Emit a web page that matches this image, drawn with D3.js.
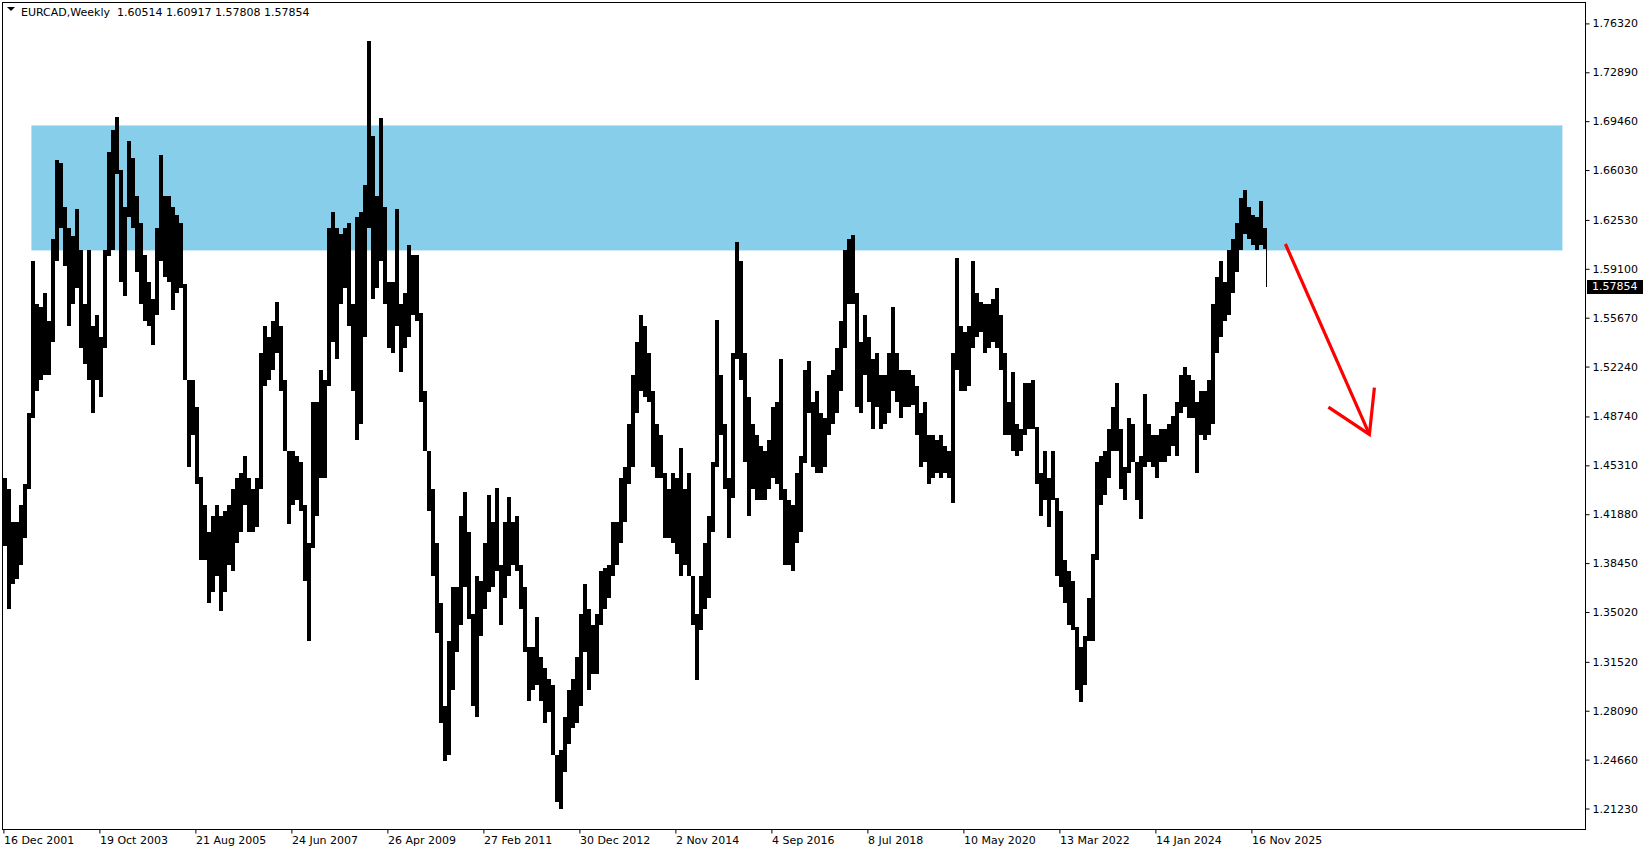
<!DOCTYPE html>
<html>
<head>
<meta charset="utf-8">
<script src="https://cdn.jsdelivr.net/npm/d3@7/dist/d3.min.js"></script>
<style>
  body { margin:0; background:#fff; }
  svg { display:block; }
</style>
</head>
<body>
<div id="chart"></div>
<script>
// EURCAD weekly, each entry = 4 weeks starting 16 Dec 2001
const weeksPerBar = 4
const highs = [
  1.4441,1.4365,1.4136,1.4136,1.4250,1.4403,1.4898,1.5966,1.5661,1.5642,
  1.5737,1.5546,1.6118,1.6671,1.6652,1.6347,1.6195,1.6137,1.6328,1.6042,
  1.5661,1.6042,1.5508,1.5585,1.5432,1.6042,1.6728,1.6881,1.6976,1.6600,
  1.6347,1.6805,1.6690,1.6424,1.6233,1.6004,1.5814,1.5699,1.6195,1.6710,
  1.6424,1.6424,1.6347,1.6290,1.6233,1.5800,1.5127,1.5127,1.4937,1.4450,
  1.4250,1.4060,1.4174,1.4250,1.4174,1.4212,1.4250,1.4365,1.4441,1.4479,
  1.4593,1.4441,1.4365,1.4441,1.5318,1.5508,1.5432,1.5546,1.5680,1.5508,
  1.5127,1.4631,1.4631,1.4593,1.4555,1.4250,1.3983,1.4975,1.4975,1.5203,
  1.5127,1.6195,1.6309,1.6195,1.6157,1.6195,1.6233,1.5661,1.6271,1.6309,
  1.6500,1.7510,1.6843,1.6424,1.6965,1.6347,1.5814,1.5814,1.6328,1.5661,
  1.5737,1.6080,1.6004,1.6004,1.5600,1.5051,1.4631,1.4365,1.3983,1.3564,
  1.2840,1.3300,1.3678,1.3678,1.4174,1.4346,1.4060,1.3488,1.3755,1.3717,
  1.3983,1.4326,1.4136,1.4372,1.3831,1.4136,1.4307,1.4136,1.4174,1.3831,
  1.3678,1.3259,1.3259,1.3469,1.3183,1.3106,1.3030,1.2992,1.2496,1.2535,
  1.2763,1.2954,1.3030,1.3183,1.3488,1.3697,1.3526,1.3412,1.3488,1.3793,
  1.3812,1.3831,1.4136,1.4136,1.4441,1.4517,1.4822,1.5165,1.5394,1.5585,
  1.5508,1.5318,1.5051,1.4822,1.4746,1.4480,1.4365,1.4479,1.4441,1.4650,
  1.4365,1.4479,1.3755,1.3488,1.3755,1.3983,1.4174,1.4555,1.5554,1.5165,
  1.4822,1.4441,1.5318,1.6099,1.5966,1.5318,1.5013,1.4822,1.4746,1.4670,
  1.4631,1.4708,1.4937,1.4975,1.5280,1.4365,1.4288,1.4250,1.4479,1.4593,
  1.5203,1.5261,1.4975,1.5051,1.4898,1.4860,1.5165,1.5203,1.5356,1.5546,
  1.6042,1.6118,1.6149,1.5737,1.5394,1.5585,1.5432,1.5280,1.5318,1.5165,
  1.5165,1.5318,1.5642,1.5318,1.5203,1.5203,1.5203,1.5165,1.5089,1.4898,
  1.4975,1.4746,1.4746,1.4708,1.4746,1.4670,1.4631,1.5318,1.5985,1.5508,
  1.5470,1.5508,1.5966,1.5737,1.5680,1.5661,1.5661,1.5699,1.5775,1.5585,
  1.5318,1.4975,1.5184,1.4822,1.4784,1.5108,1.5108,1.5127,1.4800,1.4479,
  1.4631,1.4441,1.4631,1.4300,1.4212,1.3869,1.3793,1.3717,1.3400,1.3259,
  1.3335,1.3602,1.3907,1.4555,1.4593,1.4631,1.4784,1.4937,1.5108,1.4784,
  1.4517,1.4860,1.4822,1.4555,1.4593,1.5032,1.4822,1.4746,1.4746,1.4784,
  1.4784,1.4822,1.4879,1.4975,1.5165,1.5223,1.5165,1.5127,1.4975,1.5051,
  1.5051,1.5127,1.5661,1.5852,1.5966,1.5814,1.6042,1.6118,1.6233,1.6405,
  1.6462,1.6347,1.6290,1.6271,1.6386,1.6195
]
const lows = [
  1.3964,1.3526,1.3697,1.3735,1.3831,1.4021,1.4365,1.4860,1.5051,1.5127,
  1.5165,1.5165,1.5394,1.5966,1.6195,1.5928,1.5508,1.5661,1.5775,1.5356,
  1.5242,1.5127,1.4898,1.5127,1.5013,1.5356,1.6000,1.6042,1.6576,1.5814,
  1.5718,1.6271,1.6195,1.5890,1.5661,1.5546,1.5508,1.5375,1.5585,1.5966,
  1.5852,1.5814,1.5623,1.5737,1.5775,1.5127,1.4517,1.4746,1.4403,1.3869,
  1.3869,1.3564,1.3640,1.3755,1.3507,1.3640,1.3831,1.3793,1.3983,1.4060,
  1.4250,1.4060,1.4060,1.4098,1.4365,1.5089,1.5127,1.5203,1.5318,1.5051,
  1.4631,1.4117,1.4250,1.4288,1.4212,1.3717,1.3297,1.3950,1.4174,1.4441,
  1.4441,1.5089,1.5394,1.5280,1.5661,1.5775,1.5508,1.5051,1.4708,1.4822,
  1.5432,1.6195,1.5699,1.5775,1.5966,1.5661,1.5356,1.5318,1.5508,1.5184,
  1.5356,1.5432,1.5585,1.5546,1.4975,1.4631,1.4212,1.3755,1.3354,1.2725,
  1.2458,1.2500,1.2954,1.3221,1.3412,1.3678,1.3450,1.2840,1.2763,1.3335,
  1.3526,1.3640,1.3678,1.3793,1.3412,1.3602,1.3755,1.3831,1.3793,1.3526,
  1.3221,1.2878,1.2954,1.2992,1.2878,1.2725,1.2801,1.2496,1.2172,1.2123,
  1.2382,1.2573,1.2687,1.2725,1.2840,1.3221,1.2954,1.3068,1.3068,1.3412,
  1.3526,1.3602,1.3755,1.3831,1.3983,1.4136,1.4403,1.4517,1.4898,1.5051,
  1.5013,1.4975,1.4517,1.4441,1.4441,1.4022,1.4022,1.3983,1.3907,1.3755,
  1.3831,1.3755,1.3412,1.3023,1.3374,1.3526,1.3602,1.4060,1.4517,1.4746,
  1.4365,1.4022,1.4300,1.5280,1.5127,1.4555,1.4174,1.4365,1.4288,1.4288,
  1.4288,1.4365,1.4441,1.4403,1.4288,1.3831,1.3831,1.3793,1.3983,1.4060,
  1.4550,1.4898,1.4517,1.4479,1.4479,1.4517,1.4746,1.4822,1.4898,1.5051,
  1.5356,1.5661,1.5661,1.4937,1.4898,1.5165,1.4975,1.4784,1.4937,1.4784,
  1.4822,1.4898,1.5051,1.4975,1.4860,1.4937,1.4937,1.4956,1.4746,1.4517,
  1.4555,1.4403,1.4441,1.4479,1.4441,1.4479,1.4441,1.4270,1.5203,1.5051,
  1.5051,1.5089,1.5356,1.5432,1.5470,1.5318,1.5356,1.5394,1.5356,1.5203,
  1.4746,1.4746,1.4632,1.4593,1.4631,1.4746,1.4784,1.4784,1.4403,1.4174,
  1.4288,1.4098,1.4288,1.3755,1.3678,1.3564,1.3412,1.3373,1.2954,1.2870,
  1.2992,1.3297,1.3297,1.3869,1.4250,1.4326,1.4441,1.4631,1.4631,1.4365,
  1.4288,1.4479,1.4555,1.4288,1.4155,1.4517,1.4555,1.4517,1.4441,1.4555,
  1.4555,1.4593,1.4670,1.4593,1.4898,1.4937,1.4860,1.4860,1.4479,1.4746,
  1.4708,1.4746,1.4822,1.5318,1.5432,1.5546,1.5585,1.5737,1.5890,1.6042,
  1.6157,1.6118,1.6080,1.6042,1.6080,1.6051
]
// current week (header values)
const symbol = "EURCAD,Weekly"
const lastWeek = 1263
const lastOHLC = [1.60514, 1.60917, 1.57808, 1.57854]

const priceTicks = [1.76320,1.72890,1.69460,1.66030,1.62530,1.59100,1.55670,1.52240,
                    1.48740,1.45310,1.41880,1.38450,1.35020,1.31520,1.28090,1.24660,1.21230]
const timeLabels = ["16 Dec 2001","19 Oct 2003","21 Aug 2005","24 Jun 2007","26 Apr 2009",
                    "27 Feb 2011","30 Dec 2012","2 Nov 2014","4 Sep 2016","8 Jul 2018",
                    "10 May 2020","13 Mar 2022","14 Jan 2024","16 Nov 2025"]
const weeksPerLabel = 96

// resistance zone (weeks, price) and the drawn arrow
const zoneWeeks = [28, 1559]
const zonePrices = [1.6039, 1.6916]
const arrowLine = [[1282, 1.6084], [1366, 1.4748]]
const arrowHead = [[1325, 1.4939], [1366, 1.4748], [1371, 1.5076]]

let width = 1649, height = 850
let plot = { left:2, top:2, right:1585, bottom:829 }

let x = d3.scaleLinear().domain([0, 1]).range([3.4, 4.4])
let y = d3.scaleLinear().domain([1.21230, 1.76320]).range([808.5, 23.4])

let svg = d3.select("#chart").append("svg")
  .attr("width", width).attr("height", height)
  .style("font-family", "'DejaVu Sans', Verdana, sans-serif")

let bars = highs.map((h,i) => ({ i:i, high:h, low:lows[i] }))

// zone
svg.append("rect")
  .attr("x", x(zoneWeeks[0])).attr("width", x(zoneWeeks[1]) - x(zoneWeeks[0]))
  .attr("y", y(zonePrices[1])).attr("height", y(zonePrices[0]) - y(zonePrices[1]))
  .attr("fill", "#87ceeb")

// price bars (high-low of each 4-week block)
let g = svg.append("g").attr("shape-rendering", "crispEdges")
g.selectAll("rect.bar")
  .data(bars)
  .enter()
  .append("rect")
  .attr("class", "bar")
  .attr("x", d => Math.round(x(d.i*weeksPerBar)))
  .attr("width", Math.round(x(weeksPerBar) - x(0)))
  .attr("y", d => y(d.high))
  .attr("height", d => Math.max(1, y(d.low) - y(d.high)))
  .attr("fill", "#000")

g.append("rect")
  .attr("x", Math.round(x(lastWeek)))
  .attr("width", 1)
  .attr("y", y(lastOHLC[1]))
  .attr("height", y(lastOHLC[2]) - y(lastOHLC[1]))
  .attr("fill", "#000")

// arrow
let line = d3.line().x(d => x(d[0])).y(d => y(d[1]))
svg.append("path").attr("d", line(arrowLine))
  .attr("stroke", "#ff0000").attr("stroke-width", 3.2).attr("fill", "none")
svg.append("path").attr("d", line(arrowHead))
  .attr("stroke", "#ff0000").attr("stroke-width", 3.2).attr("fill", "none")
  .attr("stroke-linejoin", "miter")

// frame
svg.append("rect")
  .attr("x", plot.left + 0.5).attr("y", plot.top + 0.5)
  .attr("width", plot.right - plot.left).attr("height", plot.bottom - plot.top)
  .attr("fill", "none").attr("stroke", "#000").attr("stroke-width", 1)
  .attr("shape-rendering", "crispEdges")

// price axis
let yAxis = d3.axisRight(y).tickValues(priceTicks).tickSize(4).tickPadding(3)
  .tickFormat(d3.format(".5f"))
let yGroup = svg.append("g").attr("transform", `translate(${plot.right + 0.5},0)`).call(yAxis)
yGroup.select(".domain").remove()
yGroup.selectAll("text").attr("font-size", 11).attr("fill", "#000")
  .attr("font-family", "'DejaVu Sans', Verdana, sans-serif")

// time axis
let xAxis = d3.axisBottom(x).tickValues(timeLabels.map((t,i) => i*weeksPerLabel))
  .tickSize(4).tickPadding(3).tickFormat((d,i) => timeLabels[i])
let xGroup = svg.append("g").attr("transform", `translate(0,${plot.bottom + 0.5})`).call(xAxis)
xGroup.select(".domain").remove()
xGroup.selectAll("text").attr("text-anchor", "start")
  .attr("font-size", 11).attr("fill", "#000")
  .attr("font-family", "Tahoma, 'DejaVu Sans', sans-serif")

// last price label
let ly = y(lastOHLC[3])
svg.append("rect").attr("x", plot.right + 2).attr("y", Math.round(ly) - 7)
  .attr("width", 56).attr("height", 14).attr("fill", "#000")
svg.append("text").attr("x", plot.right + 7).attr("y", ly).attr("dy", "0.35em")
  .attr("font-size", 11).attr("fill", "#fff").text(d3.format(".5f")(lastOHLC[3]))

// header
svg.append("path").attr("d", "M7,7 L15,7 L11,11 Z").attr("fill", "#000")
svg.append("text").attr("x", 21).attr("y", 16)
  .attr("font-size", 11).attr("fill", "#000")
  .attr("font-family", "Tahoma, 'DejaVu Sans', sans-serif")
  .attr("xml:space", "preserve")
  .text(symbol + "  " + lastOHLC.map(d3.format(".5f")).join(" "))
</script>
</body>
</html>
